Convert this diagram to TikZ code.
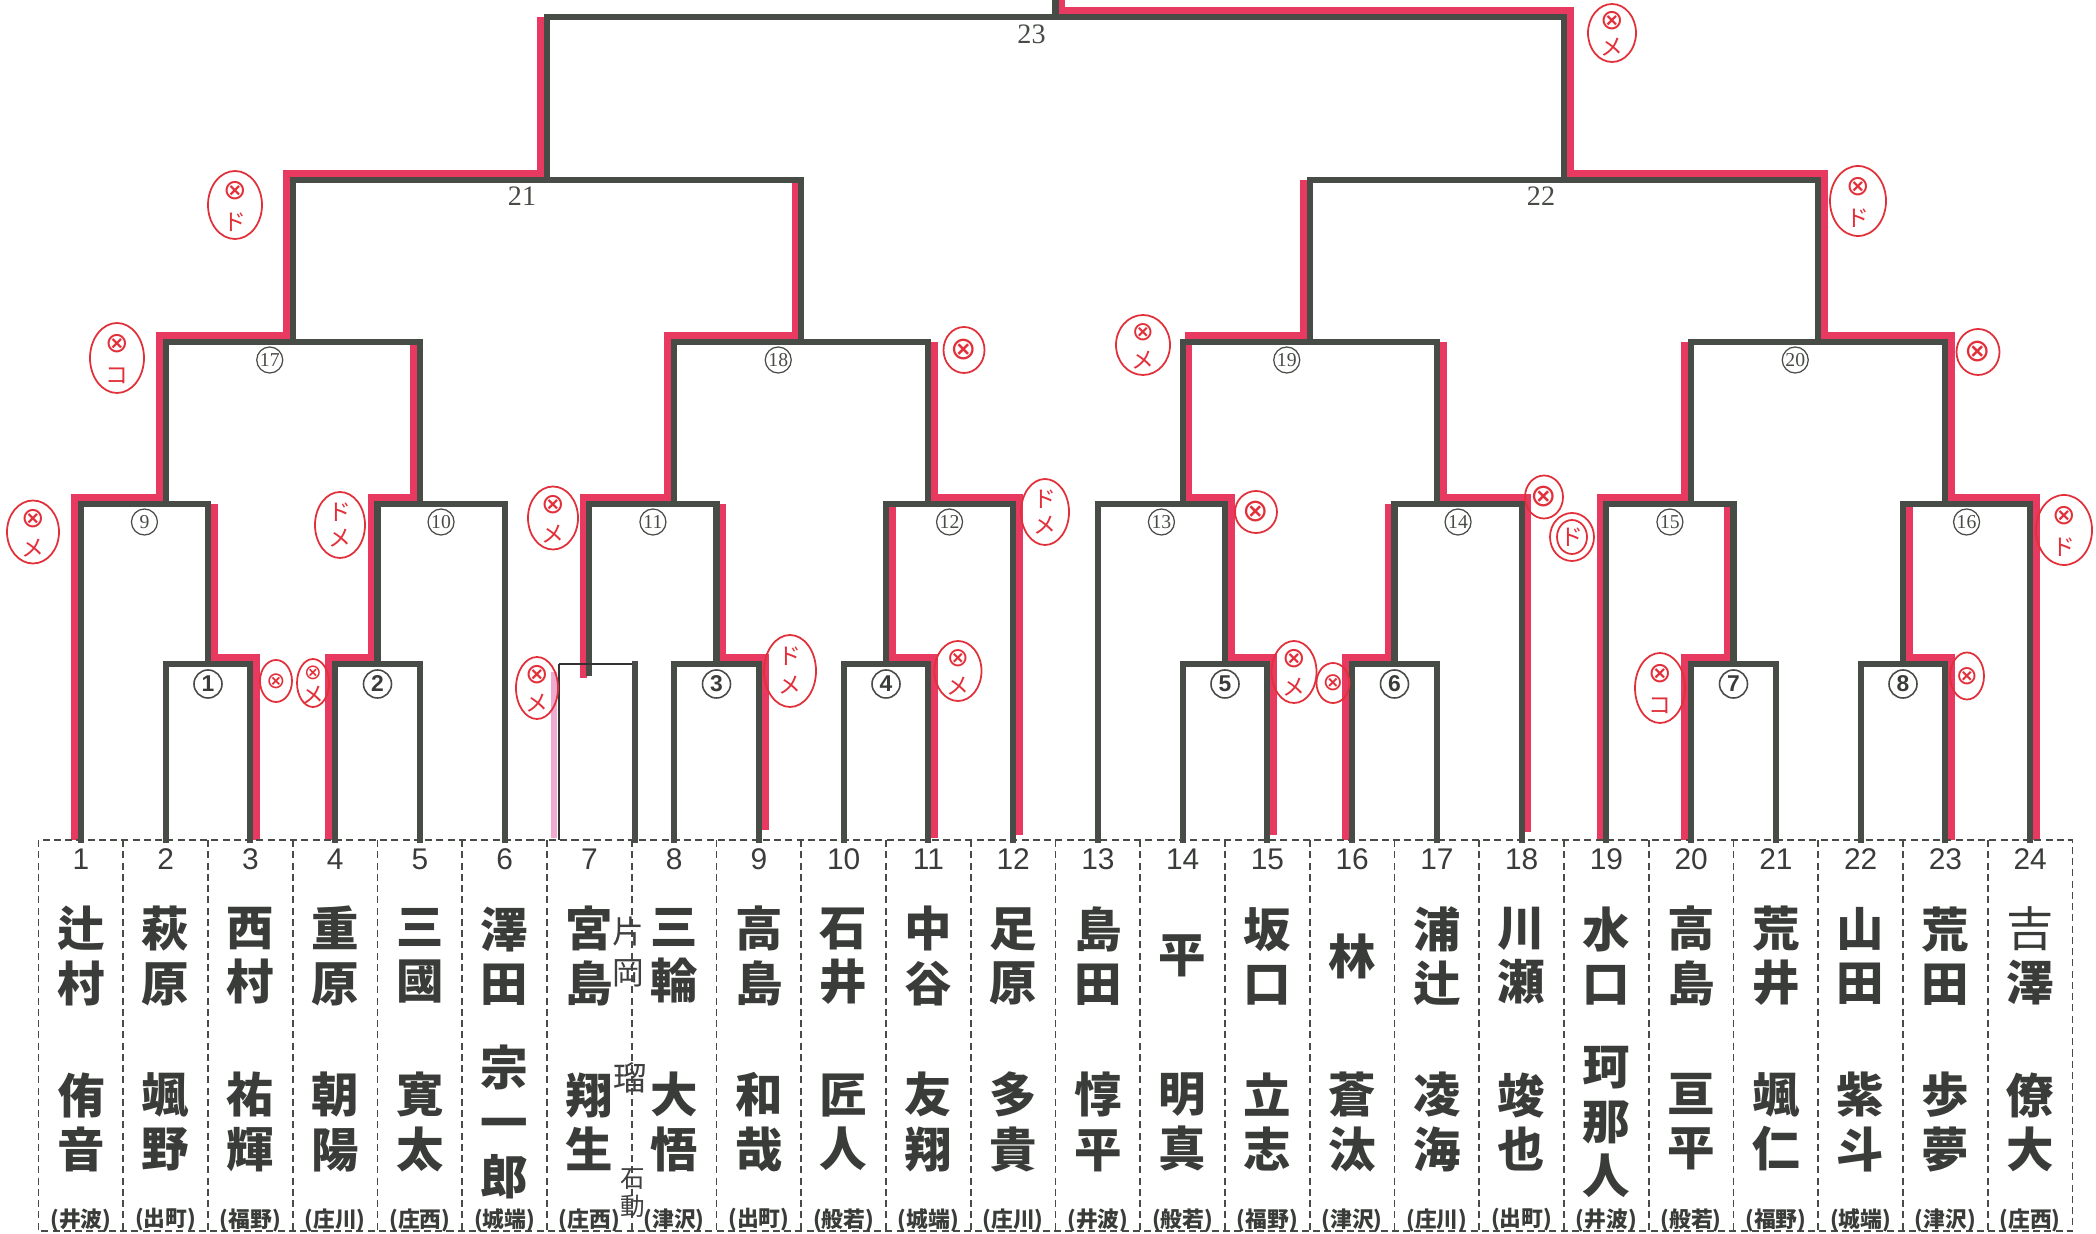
\documentclass[tikz,border=0pt]{standalone}
\usepackage{fontspec}
\usetikzlibrary{shapes.geometric}
\newfontfamily\jp{Noto Sans CJK JP}
\newfontfamily\arialf{Liberation Sans}
\newfontfamily\serf{Liberation Serif}
\newfontfamily\dejav{DejaVu Sans}
\definecolor{lc}{RGB}{72,76,70}
\definecolor{hl}{RGB}{232,58,96}
\definecolor{an}{RGB}{226,48,58}
\definecolor{tx}{RGB}{58,60,58}
\definecolor{pk}{RGB}{240,170,210}
% annotation: ellipse with (x) above and a kana below
\newcommand\annOX[6][8]{%
  \draw[anl] (#2,#3) ellipse ({#4/2} and {#5/2});
  \node[anx,font=\dejav\fontsize{#1}{#1}\selectfont] at (#2,{#3-0.21*#5}) {⊗};
  \node[ank] at (#2,{#3+0.25*#5}) {#6};}
% annotation: ellipse with (x) only
\newcommand\annO[5][9]{%
  \draw[anl] (#2,#3) ellipse ({#4/2} and {#5/2});
  \node[anx,font=\dejav\fontsize{#1}{#1}\selectfont] at (#2,#3) {⊗};}
% annotation: ellipse with two kana
\newcommand\annKK[6]{%
  \draw[anl] (#1,#2) ellipse ({#3/2} and {#4/2});
  \node[ank] at (#1,{#2-0.2*#4}) {#5};
  \node[ank] at (#1,{#2+0.2*#4}) {#6};}
\begin{document}
\begin{tikzpicture}[x=0.01cm,y=-0.01cm,
 declare function={cx(\p)=38.5+(\p-0.5)*84.75;},
 br/.style={draw=lc,line width=1.75pt,line cap=rect,line join=miter},
 rd/.style={draw=hl,line width=2.1pt,line cap=butt,line join=miter},
 tb/.style={draw=lc,line width=0.55pt,dash pattern=on 2pt off 1.2pt},
 num/.style={text=tx,font=\arialf\fontsize{8.5}{8.5}\selectfont,inner sep=0pt},
 nm/.style={text=tx,align=center,inner sep=0pt,font=\jp\bfseries\fontsize{13.5}{15.4}\selectfont},
 sch/.style={text=tx,inner sep=0pt,font=\jp\bfseries\fontsize{6.2}{6.2}\selectfont},
 cA/.style={circle,draw=lc,line width=0.45pt,minimum size=0.28cm,inner sep=0pt,text=tx,font=\arialf\bfseries\fontsize{6.5}{6.5}\selectfont},
 cB/.style={circle,draw=lc,line width=0.35pt,minimum size=0.26cm,inner sep=0pt,text=lc,font=\serf\fontsize{5.6}{5.6}\selectfont},
 rl/.style={text=lc,inner sep=0pt,font=\serf\fontsize{8}{8}\selectfont},
 anl/.style={draw=an,line width=0.5pt},
 anx/.style={text=an,inner sep=0pt},
 ank/.style={text=an,inner sep=0pt,font=\jp\fontsize{6.5}{6.5}\selectfont},
 hw/.style={text=black!75,inner sep=0pt,align=center,font=\jp\fontsize{9}{11.7}\selectfont}
]
\fill[white] (0,0) rectangle (2096,1234);
\useasboundingbox (0,0) rectangle (2096,1234);

% ---------- red highlight paths (winners) ----------
\draw[rd] ({cx(1)-6},840) -- ({cx(1)-6},498) -- ({cx(2)-6},498) -- ({cx(2)-6},336) -- ({cx(3.5)-6},336) -- ({cx(3.5)-6},174) -- ({cx(6.5)-6},174) -- ({cx(6.5)-6},17);
\draw[rd] ({cx(3)+6},840) -- ({cx(3)+6},658) -- ({cx(2.5)+6},658) -- ({cx(2.5)+6},504);
\draw[rd] ({cx(4)-6},840) -- ({cx(4)-6},658) -- ({cx(4.5)-6},658) -- ({cx(4.5)-6},498) -- ({cx(5)-6},498) -- ({cx(5)-6},342);
\draw[rd] ({cx(7)-6},678) -- ({cx(7)-6},498) -- ({cx(8)-6},498) -- ({cx(8)-6},336) -- ({cx(9.5)-6},336) -- ({cx(9.5)-6},180);
\draw[rd] ({cx(9)+6},830) -- ({cx(9)+6},658) -- ({cx(8.5)+6},658) -- ({cx(8.5)+6},504);
\draw[rd] ({cx(11)+6},838) -- ({cx(11)+6},658) -- ({cx(10.5)+6},658) -- ({cx(10.5)+6},504);
\draw[rd] ({cx(12)+6},835) -- ({cx(12)+6},498) -- ({cx(11)+6},498) -- ({cx(11)+6},342);
\draw[rd] ({cx(15)+6},835) -- ({cx(15)+6},658) -- ({cx(14.5)+6},658) -- ({cx(14.5)+6},498) -- ({cx(14)+6},498) -- ({cx(14)+6},336) -- ({cx(15.5)-6},336) -- ({cx(15.5)-6},180);
\draw[rd] ({cx(16)-6},840) -- ({cx(16)-6},658) -- ({cx(16.5)-6},658) -- ({cx(16.5)-6},504);
\draw[rd] ({cx(18)+6},832) -- ({cx(18)+6},498) -- ({cx(17)+6},498) -- ({cx(17)+6},342);
\draw[rd] ({cx(19)-6},840) -- ({cx(19)-6},498) -- ({cx(20)-6},498) -- ({cx(20)-6},342);
\draw[rd] ({cx(20)-6},840) -- ({cx(20)-6},658) -- ({cx(20.5)-6},658) -- ({cx(20.5)-6},504);
\draw[rd] ({cx(23)+6},840) -- ({cx(23)+6},658) -- ({cx(22.5)+6},658) -- ({cx(22.5)+6},504);
\draw[rd] ({cx(24)+6},840) -- ({cx(24)+6},498) -- ({cx(23)+6},498) -- ({cx(23)+6},336) -- ({cx(21.5)+6},336) -- ({cx(21.5)+6},174) -- ({cx(18.5)+6},174) -- ({cx(18.5)+6},11) -- ({cx(12.5)+6},11) -- ({cx(12.5)+6},0);
% pink correction strip beside player 7
\draw[pk,line width=1.6pt] (554,672) -- (554,838);

% ---------- black bracket ----------
\foreach \pa/\pb/\pc/\pd/\py in {2/840/3/840/664, 4/840/5/840/664, 8/840/9/840/664, 10/840/11/840/664, 14/840/15/840/664, 16/840/17/840/664, 20/840/21/840/664, 22/840/23/840/664,
 1/840/2.5/664/504, 4.5/664/6/840/504, 7/673/8.5/664/504, 10.5/664/12/840/504, 13/840/14.5/664/504, 16.5/664/18/840/504, 19/840/20.5/664/504, 22.5/664/24/840/504,
 2/504/5/504/342, 8/504/11/504/342, 14/504/17/504/342, 20/504/23/504/342,
 3.5/342/9.5/342/180, 15.5/342/21.5/342/180,
 6.5/180/18.5/180/17}
 \draw[br] ({cx(\pa)},\pb) -- ({cx(\pa)},\py) -- ({cx(\pc)},\py) -- ({cx(\pc)},\pd);
\draw[br] ({cx(12.5)},17) -- ({cx(12.5)},0);
% redrawn box at player 7
\draw[black!80,line width=0.6pt] (559,664) -- (635,664);
\draw[black!80,line width=0.6pt] (559,664) -- (559,840);
\draw[br] (635,664) -- (635,840);

% ---------- match labels ----------
\foreach \p/\n [count=\k] in {2.5/1,4.5/2,8.5/3,10.5/4,14.5/5,16.5/6,20.5/7,22.5/8}
  \node[cA] (ra\k) at ({cx(\p)},684) {\n};
\foreach \p/\n [count=\k] in {1.75/9,5.25/10,7.75/11,11.25/12,13.75/13,17.25/14,19.75/15,23.25/16}
  \node[cB] (rb\k) at ({cx(\p)},522) {\n};
\foreach \p/\n [count=\k] in {3.5/17,9.5/18,15.5/19,21.5/20}
  \node[cB] (rc\k) at ({cx(\p)-23},360) {\n};
\node[rl] (r21) at ({cx(6.5)-25},196) {21};
\node[rl] (r22) at ({cx(18.5)-23},196) {22};
\node[rl] (r23) at ({cx(12.5)-24},34) {23};

% ---------- player table ----------
\draw[tb] (38.5,840) rectangle (2072.5,1231);
\foreach \k in {1,...,23}
  \draw[tb] ({38.5+\k*84.75},840) -- ({38.5+\k*84.75},1231);
\foreach \ii/\fa/\gi/\sc in {
 1/{辻\\村}/{侑\\音}/井波,
 2/{萩\\原}/{颯\\野}/出町,
 3/{西\\村}/{祐\\輝}/福野,
 4/{重\\原}/{朝\\陽}/庄川,
 5/{三\\國}/{寛\\太}/庄西,
 6/{澤\\田}/{宗\\一\\郎}/城端,
 7/{宮\\島}/{翔\\生}/庄西,
 8/{三\\輪}/{大\\悟}/津沢,
 9/{高\\島}/{和\\哉}/出町,
 10/{石\\井}/{匠\\人}/般若,
 11/{中\\谷}/{友\\翔}/城端,
 12/{足\\原}/{多\\貴}/庄川,
 13/{島\\田}/{惇\\平}/井波,
 14/{平}/{明\\真}/般若,
 15/{坂\\口}/{立\\志}/福野,
 16/{林}/{蒼\\汰}/津沢,
 17/{浦\\辻}/{凌\\海}/庄川,
 18/{川\\瀬}/{竣\\也}/出町,
 19/{水\\口}/{珂\\那\\人}/井波,
 20/{高\\島}/{亘\\平}/般若,
 21/{荒\\井}/{颯\\仁}/福野,
 22/{山\\田}/{紫\\斗}/城端,
 23/{荒\\田}/{歩\\夢}/津沢,
 24/{{\mdseries 吉}\\澤}/{僚\\大}/庄西}
{
  \node[num] (no\ii) at ({cx(\ii)},859) {\ii};
  \node[nm] (fa\ii) at ({cx(\ii)},956) {\fa};
  \node[nm] (gi\ii) at ({cx(\ii)},1122) {\gi};
  \node[sch] (sc\ii) at ({cx(\ii)},1220) {(\sc)};
}
% handwritten notes
\node[hw] (hw1) at (628,952) {片\\岡};
\node[hw,font=\jp\fontsize{9.5}{10}\selectfont] (hw2) at (630,1078) {瑠};
\node[hw,font=\jp\fontsize{7}{8}\selectfont] (hw3) at (633,1193) {石\\動};

% ---------- red referee marks ----------
\annOX{1612}{33}{48}{58}{メ}
\annOX{235}{205}{54}{68}{ド}
\annOX{117}{358}{54}{70}{コ}
\annO{964}{350}{41}{46}
\annOX{33}{532}{52}{63}{メ}
\annKK{340}{525}{50}{66}{ド}{メ}
\annOX{553}{518}{50}{63}{メ}
\annKK{1045}{512}{48}{66}{ド}{メ}
\annOX[7.5]{1143}{345}{54}{60}{メ}
\annO{1256}{512}{42}{42}
\annO{1544}{497}{38}{43}
\draw[anl] (1572,537) ellipse (22 and 24);
\draw[anl] (1572,537) ellipse (15 and 17);
\node[ank] (dk) at (1572,537) {ド};
\annOX{1858}{201}{56}{70}{ド}
\annO{1978}{352}{43}{46}
\annOX{2064}{530}{56}{70}{ド}
\annO[6.5]{276}{681}{32}{42}
\annOX[6]{313}{683}{32}{48}{メ}
\annOX{537}{688}{42}{62}{メ}
\annKK{790}{671}{52}{72}{ド}{メ}
\annOX[7.5]{958}{671}{47}{60}{メ}
\annOX{1294}{672}{45}{62}{メ}
\annO[7]{1333}{683}{33}{40}
\annOX{1660}{688}{50}{70}{コ}
\annO[7.5]{1967}{676}{34}{47}
\end{tikzpicture}
\end{document}
